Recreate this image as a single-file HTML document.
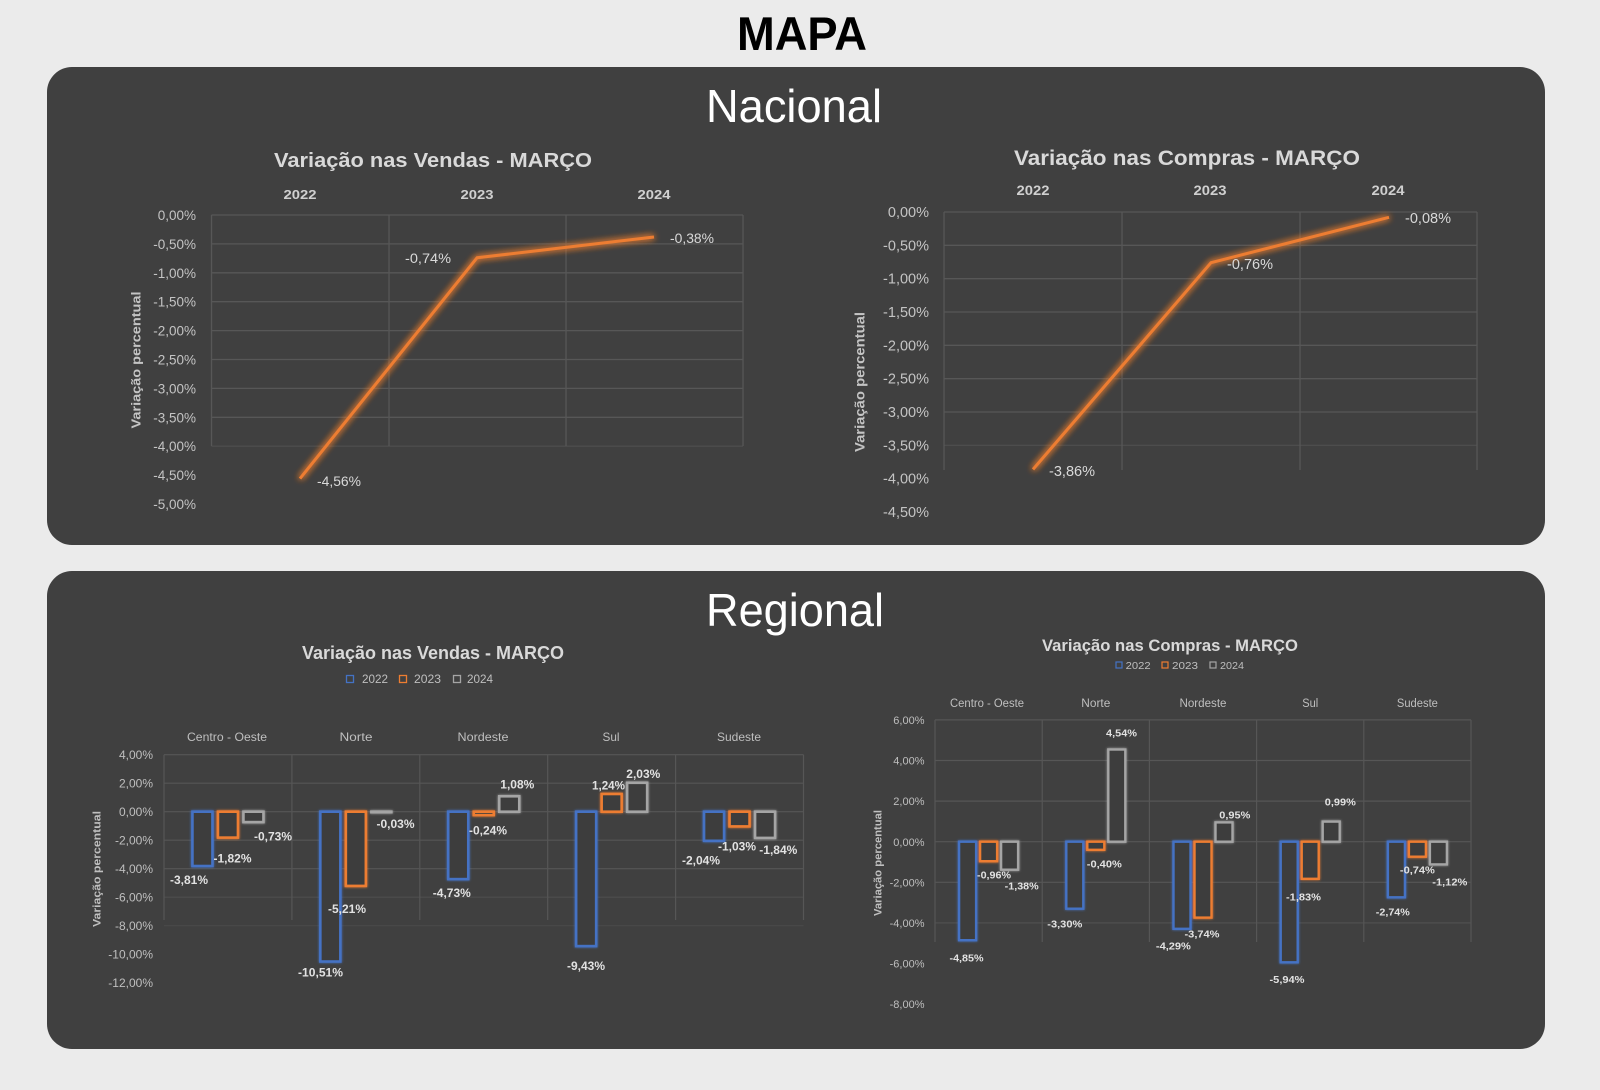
<!DOCTYPE html>
<html>
<head>
<meta charset="utf-8">
<style>
html,body{margin:0;padding:0;background:#ebebeb;}
svg{display:block;}
text{font-family:"Liberation Sans",Arial,sans-serif;}
</style>
</head>
<body>
<svg width="1600" height="1090" viewBox="0 0 1600 1090" xmlns="http://www.w3.org/2000/svg">
<defs>
  <filter id="glow" x="-20%" y="-20%" width="140%" height="140%">
    <feGaussianBlur in="SourceGraphic" stdDeviation="3.5" result="b"/>
    <feMerge><feMergeNode in="b"/><feMergeNode in="b"/><feMergeNode in="SourceGraphic"/></feMerge>
  </filter>
  <filter id="bglow" x="-50%" y="-20%" width="200%" height="140%">
    <feGaussianBlur in="SourceGraphic" stdDeviation="1.2" result="b"/>
    <feMerge><feMergeNode in="b"/><feMergeNode in="SourceGraphic"/></feMerge>
  </filter>
</defs>
<rect width="1600" height="1090" fill="#ebebeb"/>

<text x="802" y="50" font-size="47" font-weight="bold" text-anchor="middle" fill="#000" textLength="130" lengthAdjust="spacingAndGlyphs">MAPA</text>

<!-- Panels -->
<rect x="47" y="67" width="1498" height="478" rx="25" ry="25" fill="#404040"/>
<rect x="47" y="571" width="1498" height="478" rx="25" ry="25" fill="#404040"/>

<text x="794" y="122" font-size="46" text-anchor="middle" fill="#ffffff" textLength="176" lengthAdjust="spacingAndGlyphs">Nacional</text>
<text x="795" y="626" font-size="46" text-anchor="middle" fill="#ffffff" textLength="178" lengthAdjust="spacingAndGlyphs">Regional</text>

<!-- ============ Top-left line chart ============ -->
<g>
<text x="433" y="167" font-size="20" font-weight="bold" text-anchor="middle" fill="#d9d9d9" textLength="318" lengthAdjust="spacingAndGlyphs">Variação nas Vendas - MARÇO</text>
<g font-size="13" font-weight="bold" fill="#d0d0d0" text-anchor="middle">
<text x="300" y="199" textLength="33" lengthAdjust="spacingAndGlyphs">2022</text>
<text x="477" y="199" textLength="33" lengthAdjust="spacingAndGlyphs">2023</text>
<text x="654" y="199" textLength="33" lengthAdjust="spacingAndGlyphs">2024</text>
</g>
<g stroke="#575757" stroke-width="1.3" fill="none">
<line x1="211.5" y1="215" x2="743" y2="215"/>
<line x1="211.5" y1="243.9" x2="743" y2="243.9"/>
<line x1="211.5" y1="272.8" x2="743" y2="272.8"/>
<line x1="211.5" y1="301.7" x2="743" y2="301.7"/>
<line x1="211.5" y1="330.6" x2="743" y2="330.6"/>
<line x1="211.5" y1="359.5" x2="743" y2="359.5"/>
<line x1="211.5" y1="388.4" x2="743" y2="388.4"/>
<line x1="211.5" y1="417.3" x2="743" y2="417.3"/>
<line x1="211.5" y1="446.2" x2="743" y2="446.2" stroke="#4d4d4d"/>
<line x1="211.5" y1="215" x2="211.5" y2="446"/>
<line x1="389" y1="215" x2="389" y2="446"/>
<line x1="566" y1="215" x2="566" y2="446"/>
<line x1="743" y1="215" x2="743" y2="446"/>
</g>
<g font-size="13.5" fill="#c4c4c4" text-anchor="end">
<text x="196" y="220">0,00%</text>
<text x="196" y="248.9">-0,50%</text>
<text x="196" y="277.8">-1,00%</text>
<text x="196" y="306.7">-1,50%</text>
<text x="196" y="335.6">-2,00%</text>
<text x="196" y="364.5">-2,50%</text>
<text x="196" y="393.4">-3,00%</text>
<text x="196" y="422.3">-3,50%</text>
<text x="196" y="451.2">-4,00%</text>
<text x="196" y="480.1">-4,50%</text>
<text x="196" y="509">-5,00%</text>
</g>
<text transform="translate(140.5,360) rotate(-90)" font-size="13" font-weight="bold" fill="#c4c4c4" text-anchor="middle" textLength="137" lengthAdjust="spacingAndGlyphs">Variação percentual</text>
<polyline points="300,478.6 477,257.8 654,237" fill="none" stroke="#ed7d31" stroke-width="3" stroke-linejoin="round" filter="url(#glow)"/>
<g font-size="14" fill="#d9d9d9">
<text x="317" y="486" textLength="44" lengthAdjust="spacingAndGlyphs">-4,56%</text>
<text x="405" y="263" textLength="46" lengthAdjust="spacingAndGlyphs">-0,74%</text>
<text x="670" y="243" textLength="44" lengthAdjust="spacingAndGlyphs">-0,38%</text>
</g>
</g>

<!-- ============ Top-right line chart ============ -->
<g>
<text x="1187" y="165" font-size="21" font-weight="bold" text-anchor="middle" fill="#d9d9d9" textLength="346" lengthAdjust="spacingAndGlyphs">Variação nas Compras - MARÇO</text>
<g font-size="13.5" font-weight="bold" fill="#d0d0d0" text-anchor="middle">
<text x="1033" y="195" textLength="33" lengthAdjust="spacingAndGlyphs">2022</text>
<text x="1210" y="195" textLength="33" lengthAdjust="spacingAndGlyphs">2023</text>
<text x="1388" y="195" textLength="33" lengthAdjust="spacingAndGlyphs">2024</text>
</g>
<g stroke="#575757" stroke-width="1.3" fill="none">
<line x1="944" y1="212" x2="1477" y2="212"/>
<line x1="944" y1="245.3" x2="1477" y2="245.3"/>
<line x1="944" y1="278.7" x2="1477" y2="278.7"/>
<line x1="944" y1="312" x2="1477" y2="312"/>
<line x1="944" y1="345.3" x2="1477" y2="345.3"/>
<line x1="944" y1="378.7" x2="1477" y2="378.7"/>
<line x1="944" y1="412" x2="1477" y2="412"/>
<line x1="944" y1="445.3" x2="1477" y2="445.3" stroke="#4d4d4d"/>
<line x1="944" y1="212" x2="944" y2="470"/>
<line x1="1122" y1="212" x2="1122" y2="470"/>
<line x1="1300" y1="212" x2="1300" y2="470"/>
<line x1="1477" y1="212" x2="1477" y2="470"/>
</g>
<g font-size="14.5" fill="#c4c4c4" text-anchor="end">
<text x="929" y="217">0,00%</text>
<text x="929" y="250.3">-0,50%</text>
<text x="929" y="283.7">-1,00%</text>
<text x="929" y="317">-1,50%</text>
<text x="929" y="350.3">-2,00%</text>
<text x="929" y="383.7">-2,50%</text>
<text x="929" y="417">-3,00%</text>
<text x="929" y="450.3">-3,50%</text>
<text x="929" y="483.7">-4,00%</text>
<text x="929" y="517">-4,50%</text>
</g>
<text transform="translate(864.5,382) rotate(-90)" font-size="14" font-weight="bold" fill="#c4c4c4" text-anchor="middle" textLength="140" lengthAdjust="spacingAndGlyphs">Variação percentual</text>
<polyline points="1033,469.4 1211,262.7 1389,217.3" fill="none" stroke="#ed7d31" stroke-width="3" stroke-linejoin="round" filter="url(#glow)"/>
<g font-size="14.5" fill="#d9d9d9">
<text x="1049" y="476" textLength="46" lengthAdjust="spacingAndGlyphs">-3,86%</text>
<text x="1227" y="269" textLength="46" lengthAdjust="spacingAndGlyphs">-0,76%</text>
<text x="1405" y="223" textLength="46" lengthAdjust="spacingAndGlyphs">-0,08%</text>
</g>
</g>

<!-- ============ Bottom-left bar chart ============ -->
<g>
<text x="433" y="659" font-size="18" font-weight="bold" text-anchor="middle" fill="#d9d9d9" textLength="262" lengthAdjust="spacingAndGlyphs">Variação nas Vendas - MARÇO</text>
<g stroke-width="1.3" fill="none">
<rect x="346.5" y="675.5" width="7" height="7" stroke="#4472c4"/>
<rect x="399.5" y="675.5" width="7" height="7" stroke="#ed7d31"/>
<rect x="453.5" y="675.5" width="7" height="7" stroke="#a5a5a5"/>
</g>
<g font-size="11.5" fill="#bfbfbf">
<text x="362" y="683" textLength="26" lengthAdjust="spacingAndGlyphs">2022</text>
<text x="414" y="683" textLength="27" lengthAdjust="spacingAndGlyphs">2023</text>
<text x="467" y="683" textLength="26" lengthAdjust="spacingAndGlyphs">2024</text>
</g>
<g font-size="12" fill="#bfbfbf" text-anchor="middle">
<text x="227" y="741" textLength="80" lengthAdjust="spacingAndGlyphs">Centro - Oeste</text>
<text x="356" y="741" textLength="33" lengthAdjust="spacingAndGlyphs">Norte</text>
<text x="483" y="741" textLength="51" lengthAdjust="spacingAndGlyphs">Nordeste</text>
<text x="611" y="741" textLength="17" lengthAdjust="spacingAndGlyphs">Sul</text>
<text x="739" y="741" textLength="44" lengthAdjust="spacingAndGlyphs">Sudeste</text>
</g>
<g stroke="#565656" stroke-width="1.2" fill="none">
<line x1="164" y1="754.7" x2="803.5" y2="754.7"/>
<line x1="164" y1="783.2" x2="803.5" y2="783.2"/>
<line x1="164" y1="811.7" x2="803.5" y2="811.7"/>
<line x1="164" y1="840.2" x2="803.5" y2="840.2"/>
<line x1="164" y1="868.7" x2="803.5" y2="868.7"/>
<line x1="164" y1="897.2" x2="803.5" y2="897.2" stroke="#4e4e4e"/>
<line x1="164" y1="925.7" x2="803.5" y2="925.7" stroke="#494949"/>
<line x1="164" y1="754.7" x2="164" y2="920"/>
<line x1="291.9" y1="754.7" x2="291.9" y2="920"/>
<line x1="419.8" y1="754.7" x2="419.8" y2="920"/>
<line x1="547.7" y1="754.7" x2="547.7" y2="920"/>
<line x1="675.6" y1="754.7" x2="675.6" y2="920"/>
<line x1="803.5" y1="754.7" x2="803.5" y2="920"/>
</g>
<g font-size="12" fill="#bfbfbf" text-anchor="end">
<text x="153" y="759">4,00%</text>
<text x="153" y="787.5">2,00%</text>
<text x="153" y="816">0,00%</text>
<text x="153" y="844.5">-2,00%</text>
<text x="153" y="873">-4,00%</text>
<text x="153" y="901.5">-6,00%</text>
<text x="153" y="930">-8,00%</text>
<text x="153" y="958.5">-10,00%</text>
<text x="153" y="987">-12,00%</text>
</g>
<text transform="translate(100.5,869) rotate(-90)" font-size="11" font-weight="bold" fill="#bfbfbf" text-anchor="middle" textLength="116" lengthAdjust="spacingAndGlyphs">Variação percentual</text>
<g fill="#3c3c3c" stroke-width="2.6" filter="url(#bglow)">
<rect x="192.45" y="811.7" width="20" height="54.3" stroke="#4472c4"/>
<rect x="217.95" y="811.7" width="20" height="25.9" stroke="#ed7d31"/>
<rect x="243.45" y="811.7" width="20" height="10.4" stroke="#a5a5a5"/>
<rect x="320.35" y="811.7" width="20" height="149.8" stroke="#4472c4"/>
<rect x="345.85" y="811.7" width="20" height="74.2" stroke="#ed7d31"/>
<rect x="371.35" y="811.7" width="20" height="0.5" stroke="#a5a5a5"/>
<rect x="448.25" y="811.7" width="20" height="67.4" stroke="#4472c4"/>
<rect x="473.75" y="811.7" width="20" height="3.4" stroke="#ed7d31"/>
<rect x="499.25" y="796.3" width="20" height="15.4" stroke="#a5a5a5"/>
<rect x="576.15" y="811.7" width="20" height="134.4" stroke="#4472c4"/>
<rect x="601.65" y="794" width="20" height="17.7" stroke="#ed7d31"/>
<rect x="627.15" y="782.8" width="20" height="28.9" stroke="#a5a5a5"/>
<rect x="704.05" y="811.7" width="20" height="29.1" stroke="#4472c4"/>
<rect x="729.55" y="811.7" width="20" height="14.7" stroke="#ed7d31"/>
<rect x="755.05" y="811.7" width="20" height="26.2" stroke="#a5a5a5"/>
</g>
<g font-size="11.5" font-weight="bold" fill="#e2e2e2" text-anchor="middle">
<text x="189" y="884" textLength="38" lengthAdjust="spacingAndGlyphs">-3,81%</text>
<text x="232.5" y="862.7" textLength="38" lengthAdjust="spacingAndGlyphs">-1,82%</text>
<text x="273" y="840.7" textLength="38" lengthAdjust="spacingAndGlyphs">-0,73%</text>
<text x="320.5" y="976.7" textLength="45" lengthAdjust="spacingAndGlyphs">-10,51%</text>
<text x="347" y="913" textLength="38" lengthAdjust="spacingAndGlyphs">-5,21%</text>
<text x="395.5" y="828" textLength="38" lengthAdjust="spacingAndGlyphs">-0,03%</text>
<text x="451.8" y="897" textLength="38" lengthAdjust="spacingAndGlyphs">-4,73%</text>
<text x="488" y="834.7" textLength="38" lengthAdjust="spacingAndGlyphs">-0,24%</text>
<text x="517.3" y="788.3" textLength="34" lengthAdjust="spacingAndGlyphs">1,08%</text>
<text x="586" y="970" textLength="38" lengthAdjust="spacingAndGlyphs">-9,43%</text>
<text x="608.5" y="789.7" textLength="33" lengthAdjust="spacingAndGlyphs">1,24%</text>
<text x="643.3" y="778" textLength="34" lengthAdjust="spacingAndGlyphs">2,03%</text>
<text x="701" y="864.7" textLength="38" lengthAdjust="spacingAndGlyphs">-2,04%</text>
<text x="737" y="850.7" textLength="38" lengthAdjust="spacingAndGlyphs">-1,03%</text>
<text x="778.3" y="854" textLength="38" lengthAdjust="spacingAndGlyphs">-1,84%</text>
</g>
</g>

<!-- ============ Bottom-right bar chart ============ -->
<g>
<text x="1170" y="651" font-size="17" font-weight="bold" text-anchor="middle" fill="#d9d9d9" textLength="256" lengthAdjust="spacingAndGlyphs">Variação nas Compras - MARÇO</text>
<g stroke-width="1.2" fill="none">
<rect x="1116" y="662" width="6" height="6" stroke="#4472c4"/>
<rect x="1162" y="662" width="6" height="6" stroke="#ed7d31"/>
<rect x="1210" y="662" width="6" height="6" stroke="#a5a5a5"/>
</g>
<g font-size="10.5" fill="#bfbfbf">
<text x="1125.7" y="669" textLength="25" lengthAdjust="spacingAndGlyphs">2022</text>
<text x="1172" y="669" textLength="26" lengthAdjust="spacingAndGlyphs">2023</text>
<text x="1220" y="669" textLength="24" lengthAdjust="spacingAndGlyphs">2024</text>
</g>
<g font-size="11.5" fill="#bfbfbf" text-anchor="middle">
<text x="987" y="707" textLength="74" lengthAdjust="spacingAndGlyphs">Centro - Oeste</text>
<text x="1095.8" y="707" textLength="29" lengthAdjust="spacingAndGlyphs">Norte</text>
<text x="1203" y="707" textLength="47" lengthAdjust="spacingAndGlyphs">Nordeste</text>
<text x="1310.2" y="707" textLength="16" lengthAdjust="spacingAndGlyphs">Sul</text>
<text x="1417.4" y="707" textLength="41" lengthAdjust="spacingAndGlyphs">Sudeste</text>
</g>
<g stroke="#565656" stroke-width="1.2" fill="none">
<line x1="935" y1="719.9" x2="1471" y2="719.9"/>
<line x1="935" y1="760.5" x2="1471" y2="760.5"/>
<line x1="935" y1="801.1" x2="1471" y2="801.1"/>
<line x1="935" y1="841.7" x2="1471" y2="841.7"/>
<line x1="935" y1="882.3" x2="1471" y2="882.3"/>
<line x1="935" y1="922.9" x2="1471" y2="922.9" stroke="#4f4f4f"/>
<line x1="935" y1="719.9" x2="935" y2="942"/>
<line x1="1042.2" y1="719.9" x2="1042.2" y2="942"/>
<line x1="1149.4" y1="719.9" x2="1149.4" y2="942"/>
<line x1="1256.6" y1="719.9" x2="1256.6" y2="942"/>
<line x1="1363.8" y1="719.9" x2="1363.8" y2="942"/>
<line x1="1471" y1="719.9" x2="1471" y2="942"/>
</g>
<g font-size="11" fill="#bfbfbf" text-anchor="end">
<text x="924.5" y="724">6,00%</text>
<text x="924.5" y="764.6">4,00%</text>
<text x="924.5" y="805.2">2,00%</text>
<text x="924.5" y="845.8">0,00%</text>
<text x="924.5" y="886.4">-2,00%</text>
<text x="924.5" y="927">-4,00%</text>
<text x="924.5" y="967.6">-6,00%</text>
<text x="924.5" y="1008.2">-8,00%</text>
</g>
<text transform="translate(881.5,863) rotate(-90)" font-size="11" font-weight="bold" fill="#bfbfbf" text-anchor="middle" textLength="106" lengthAdjust="spacingAndGlyphs">Variação percentual</text>
<g fill="#3c3c3c" stroke-width="2.4" filter="url(#bglow)">
<rect x="959.1" y="841.7" width="17" height="98.5" stroke="#4472c4"/>
<rect x="980.1" y="841.7" width="17" height="19.5" stroke="#ed7d31"/>
<rect x="1001.1" y="841.7" width="17" height="28" stroke="#a5a5a5"/>
<rect x="1066.3" y="841.7" width="17" height="67" stroke="#4472c4"/>
<rect x="1087.3" y="841.7" width="17" height="8.1" stroke="#ed7d31"/>
<rect x="1108.3" y="749.5" width="17" height="92.2" stroke="#a5a5a5"/>
<rect x="1173.5" y="841.7" width="17" height="87.1" stroke="#4472c4"/>
<rect x="1194.5" y="841.7" width="17" height="75.9" stroke="#ed7d31"/>
<rect x="1215.5" y="822.4" width="17" height="19.3" stroke="#a5a5a5"/>
<rect x="1280.7" y="841.7" width="17" height="120.6" stroke="#4472c4"/>
<rect x="1301.7" y="841.7" width="17" height="37.1" stroke="#ed7d31"/>
<rect x="1322.7" y="821.6" width="17" height="20.1" stroke="#a5a5a5"/>
<rect x="1387.9" y="841.7" width="17" height="55.6" stroke="#4472c4"/>
<rect x="1408.9" y="841.7" width="17" height="15" stroke="#ed7d31"/>
<rect x="1429.9" y="841.7" width="17" height="22.7" stroke="#a5a5a5"/>
</g>
<g font-size="10.5" font-weight="bold" fill="#e2e2e2" text-anchor="middle">
<text x="966.5" y="961.7" textLength="34" lengthAdjust="spacingAndGlyphs">-4,85%</text>
<text x="994" y="878.3" textLength="34" lengthAdjust="spacingAndGlyphs">-0,96%</text>
<text x="1021.7" y="889.7" textLength="34" lengthAdjust="spacingAndGlyphs">-1,38%</text>
<text x="1064.8" y="927.3" textLength="35" lengthAdjust="spacingAndGlyphs">-3,30%</text>
<text x="1104.3" y="867.7" textLength="35" lengthAdjust="spacingAndGlyphs">-0,40%</text>
<text x="1121.5" y="736.3" textLength="31" lengthAdjust="spacingAndGlyphs">4,54%</text>
<text x="1173.4" y="949.7" textLength="35" lengthAdjust="spacingAndGlyphs">-4,29%</text>
<text x="1202" y="937.3" textLength="35" lengthAdjust="spacingAndGlyphs">-3,74%</text>
<text x="1234.8" y="818.3" textLength="31" lengthAdjust="spacingAndGlyphs">0,95%</text>
<text x="1287" y="983" textLength="35" lengthAdjust="spacingAndGlyphs">-5,94%</text>
<text x="1303.5" y="900.7" textLength="35" lengthAdjust="spacingAndGlyphs">-1,83%</text>
<text x="1340.3" y="805.7" textLength="31" lengthAdjust="spacingAndGlyphs">0,99%</text>
<text x="1392.8" y="915.7" textLength="34" lengthAdjust="spacingAndGlyphs">-2,74%</text>
<text x="1417.4" y="873.3" textLength="35" lengthAdjust="spacingAndGlyphs">-0,74%</text>
<text x="1449.8" y="885.7" textLength="35" lengthAdjust="spacingAndGlyphs">-1,12%</text>
</g>
</g>
</svg>
</body>
</html>
